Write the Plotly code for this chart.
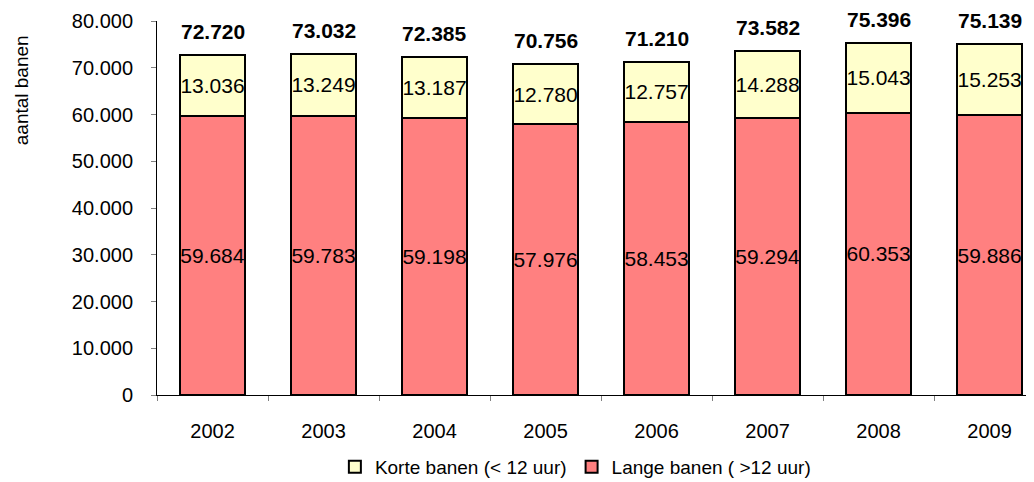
import plotly.graph_objects as go

jaren = ['2002', '2003', '2004', '2005', '2006', '2007', '2008', '2009']
lange = [59684, 59783, 59198, 57976, 58453, 59294, 60353, 59886]
korte = [13036, 13249, 13187, 12780, 12757, 14288, 15043, 15253]
totaal = [72720, 73032, 72385, 70756, 71210, 73582, 75396, 75139]


def nl(v):
    return f"{v:,}".replace(",", ".")


fnt = 'Liberation Sans, Arial, sans-serif'

fig = go.Figure()
fig.add_trace(go.Bar(
    x=jaren, y=lange, name='Lange banen ( >12 uur)',
    marker=dict(color='#FF8080', line=dict(color='black', width=2)),
    text=[nl(v) for v in lange], textposition='inside', insidetextanchor='middle',
    textangle=0, constraintext='none', textfont=dict(size=21, color='black'),
    legendrank=2, width=0.585,
))
fig.add_trace(go.Bar(
    x=jaren, y=korte, name='Korte banen (< 12 uur)',
    marker=dict(color='#FFFFCC', line=dict(color='black', width=2)),
    text=[nl(v) for v in korte], textposition='inside', insidetextanchor='middle',
    textangle=0, constraintext='none', textfont=dict(size=21, color='black'),
    legendrank=1, width=0.585,
))

# totalen boven de staven (categorie-as: x als volgnummer)
annots = [dict(x=i, y=t, text='<b>' + nl(t) + '</b>', showarrow=False,
               xref='x', yref='y', yanchor='bottom', yshift=10, font=dict(size=21))
          for i, t in enumerate(totaal)]
annots.append(dict(text='aantal banen', textangle=-90, xref='paper', yref='paper',
                   x=-0.155, y=0.815, xanchor='center', yanchor='middle',
                   showarrow=False, font=dict(size=19)))

# pagina heeft 8px body-marge, daarom 1026x474
fig.update_layout(
    barmode='stack', bargap=0.415,
    width=1026, height=474,
    margin=dict(l=149, r=0, t=13, b=87, autoexpand=False),
    plot_bgcolor='white', paper_bgcolor='white',
    font=dict(family=fnt, size=21, color='black'),
    separators=',.',
    showlegend=True,
    legend=dict(orientation='h', xref='container', yref='container',
                x=0.553, xanchor='center', y=0.032, yanchor='middle',
                font=dict(size=19), itemwidth=30, traceorder='normal'),
    annotations=annots,
)
fig.update_xaxes(
    type='category', range=[-0.5, 7.4], showline=True, linecolor='black', linewidth=1,
    ticks='outside', tickson='boundaries', ticklen=5, tickcolor='#808080',
    ticklabelstandoff=18, showgrid=False, tickfont=dict(size=20),
)
fig.update_yaxes(
    range=[0, 80000], dtick=10000, tickformat=',d', showline=True,
    linecolor='black', linewidth=1, ticks='outside', ticklen=5, tickcolor='#808080',
    ticklabelstandoff=14, showgrid=False, zeroline=False, tickfont=dict(size=20),
)

fig.write_html("out.html")
